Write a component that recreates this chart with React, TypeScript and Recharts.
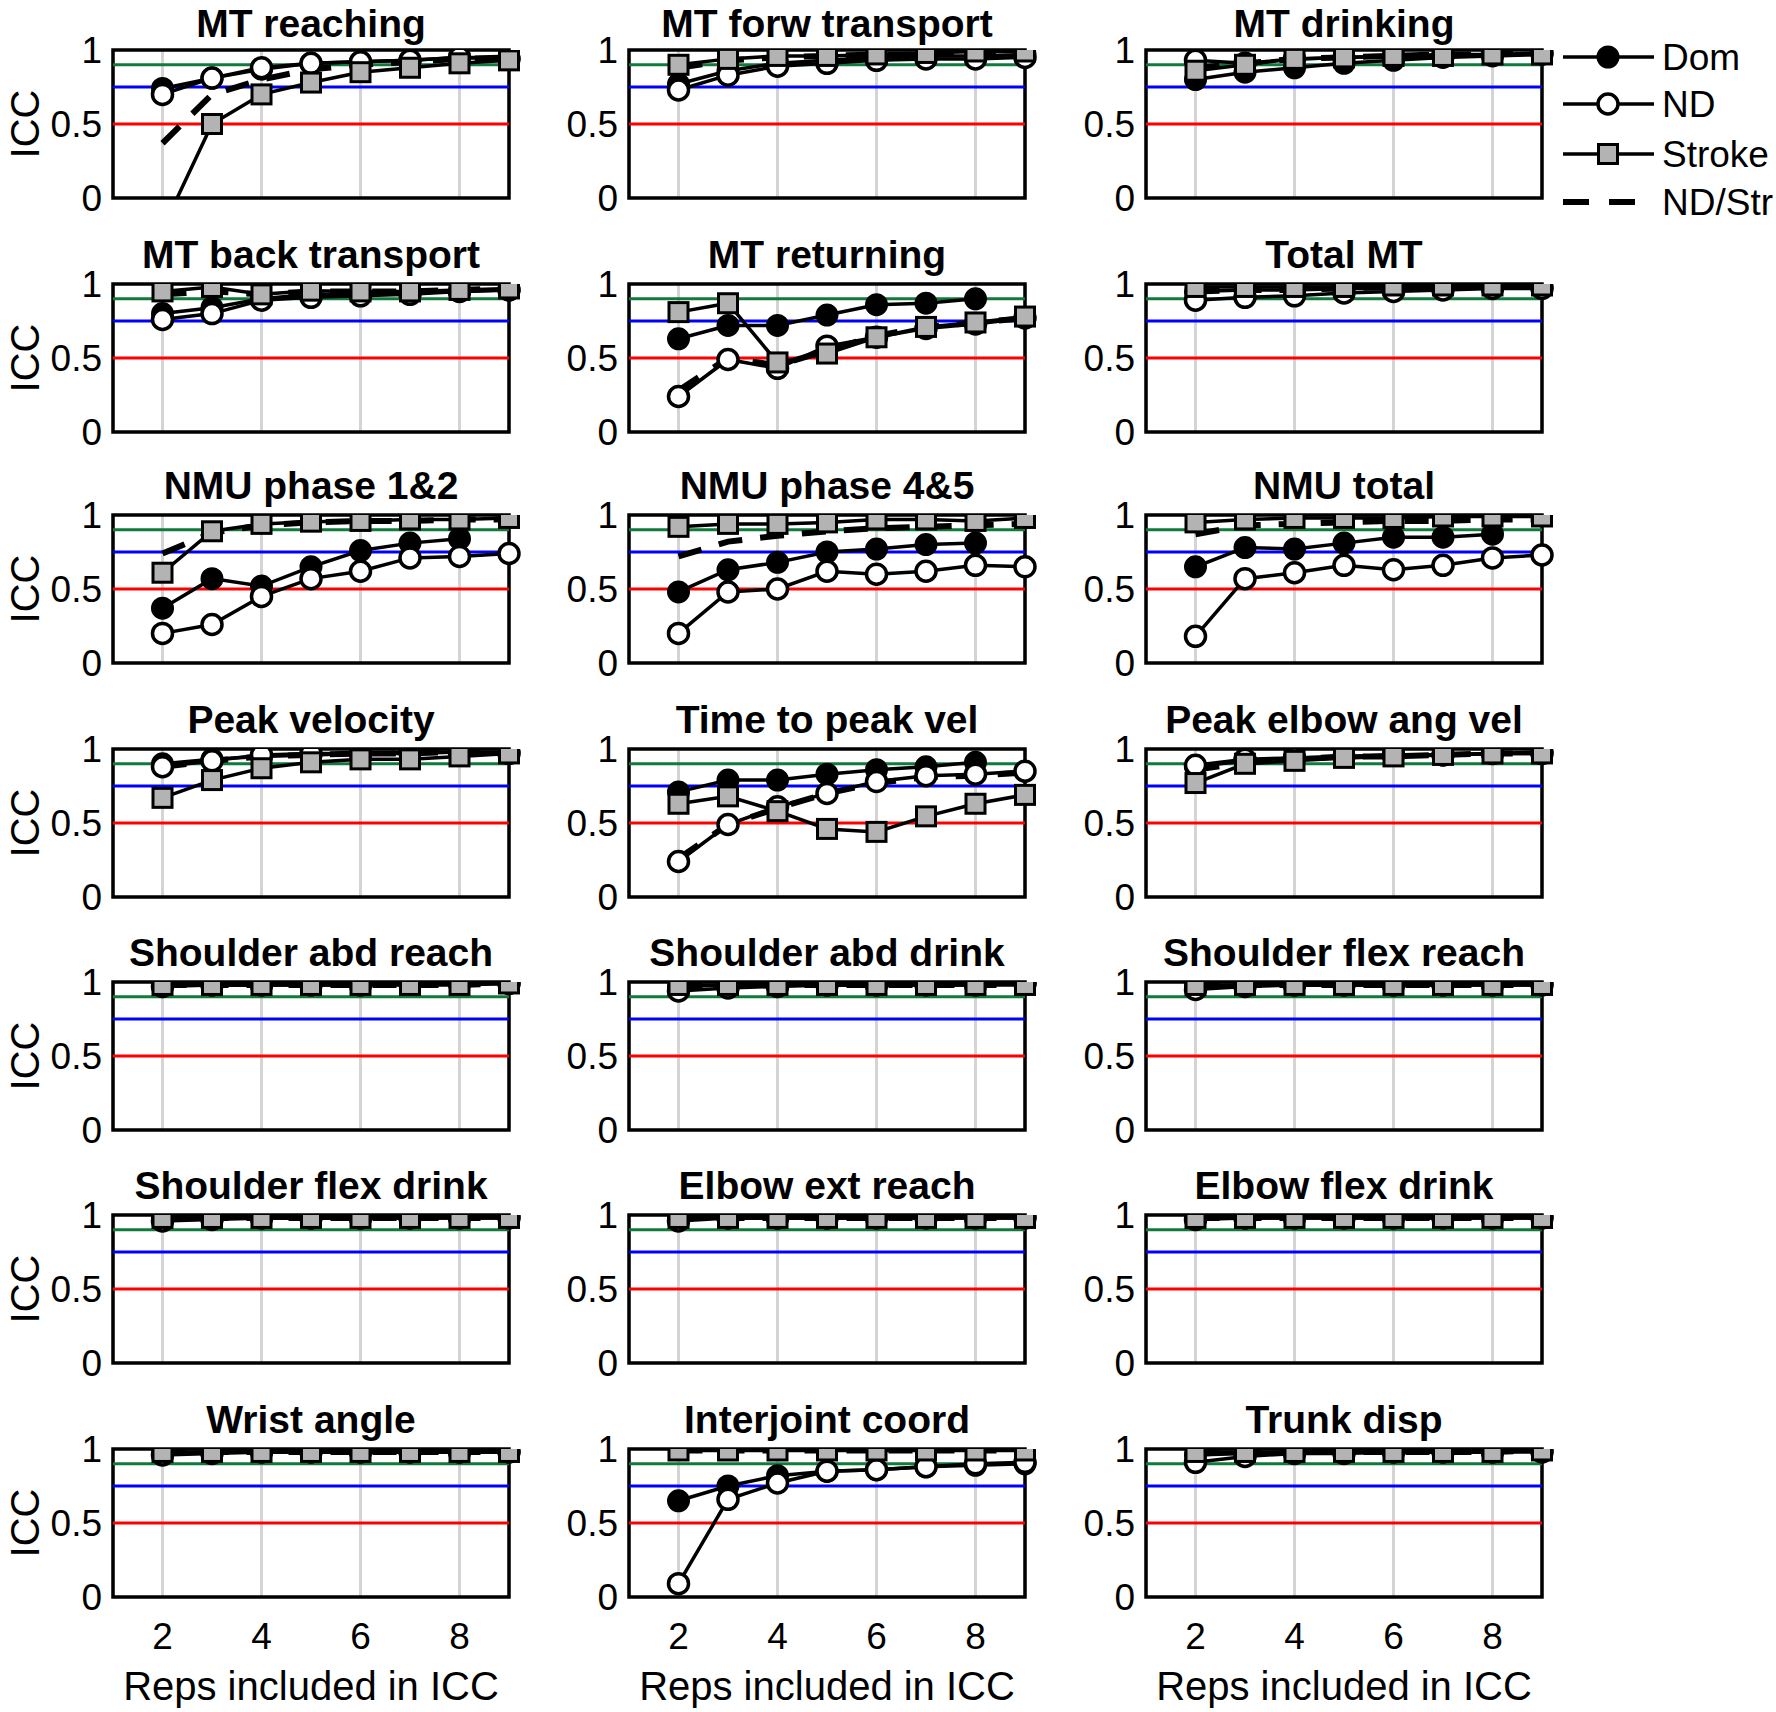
import React from 'react';
import { LineChart, Line, XAxis, YAxis, CartesianGrid, ReferenceLine, ReferenceArea } from 'recharts';

// ---------- data ----------
const REPS = [2, 3, 4, 5, 6, 7, 8, 9];
const X_TICKS = [2, 4, 6, 8];
const Y_TICKS = [0, 0.5, 1];

const TITLES = [
  'MT reaching', 'MT forw transport', 'MT drinking',
  'MT back transport', 'MT returning', 'Total MT',
  'NMU phase 1&2', 'NMU phase 4&5', 'NMU total',
  'Peak velocity', 'Time to peak vel', 'Peak elbow ang vel',
  'Shoulder abd reach', 'Shoulder abd drink', 'Shoulder flex reach',
  'Shoulder flex drink', 'Elbow ext reach', 'Elbow flex drink',
  'Wrist angle', 'Interjoint coord', 'Trunk disp',
];

const DOM: (number | null)[][] = [
  [0.74, 0.81, 0.87, 0.91, 0.92, 0.93, 0.95, 0.95],
  [0.77, 0.86, 0.91, 0.93, 0.95, 0.96, 0.96, 0.97],
  [0.80, 0.85, 0.88, 0.91, 0.93, 0.95, 0.96, 0.97],
  [0.80, 0.84, 0.90, 0.93, 0.93, 0.94, 0.95, 0.96],
  [0.63, 0.72, 0.72, 0.79, 0.86, 0.87, 0.90, null],
  [0.95, 0.96, 0.96, 0.97, 0.97, 0.97, 0.98, 0.98],
  [0.37, 0.57, 0.52, 0.65, 0.76, 0.81, 0.84, null],
  [0.48, 0.63, 0.68, 0.75, 0.77, 0.80, 0.81, null],
  [0.65, 0.78, 0.77, 0.81, 0.85, 0.85, 0.87, null],
  [0.90, 0.93, 0.95, 0.96, 0.97, 0.97, 0.98, 0.98],
  [0.71, 0.79, 0.79, 0.83, 0.86, 0.88, 0.91, null],
  [0.88, 0.92, 0.94, 0.95, 0.96, 0.96, 0.97, 0.98],
  [0.98, 0.98, 0.98, 0.99, 0.99, 0.99, 0.99, 0.99],
  [0.97, 0.98, 0.98, 0.98, 0.98, 0.99, 0.99, 0.99],
  [0.97, 0.98, 0.98, 0.98, 0.98, 0.98, 0.99, 0.99],
  [0.98, 0.98, 0.98, 0.98, 0.98, 0.98, 0.99, 0.99],
  [0.98, 0.98, 0.98, 0.98, 0.99, 0.99, 0.99, 0.99],
  [0.98, 0.98, 0.99, 0.99, 0.99, 0.99, 0.99, 0.99],
  [0.97, 0.98, 0.98, 0.98, 0.98, 0.98, 0.98, 0.98],
  [0.65, 0.75, 0.82, 0.85, 0.86, 0.88, 0.89, 0.90],
  [0.96, 0.97, 0.98, 0.98, 0.98, 0.98, 0.98, 0.99],
];

const ND: (number | null)[][] = [
  [0.70, 0.81, 0.88, 0.91, 0.92, 0.93, 0.95, 0.94],
  [0.73, 0.83, 0.89, 0.91, 0.93, 0.94, 0.94, 0.95],
  [0.93, 0.91, 0.94, 0.95, 0.96, 0.97, 0.97, 0.98],
  [0.76, 0.80, 0.89, 0.91, 0.92, 0.93, 0.95, 0.96],
  [0.24, 0.49, 0.43, 0.58, 0.64, 0.70, 0.73, 0.77],
  [0.89, 0.91, 0.92, 0.94, 0.95, 0.96, 0.97, 0.97],
  [0.20, 0.26, 0.45, 0.57, 0.62, 0.71, 0.72, 0.74],
  [0.20, 0.48, 0.50, 0.62, 0.60, 0.62, 0.66, 0.65],
  [0.18, 0.57, 0.61, 0.66, 0.63, 0.66, 0.71, 0.73],
  [0.88, 0.92, 0.96, 0.97, 0.97, 0.98, 0.98, 0.97],
  [0.24, 0.49, 0.61, 0.70, 0.78, 0.82, 0.83, 0.85],
  [0.89, 0.93, 0.94, 0.95, 0.96, 0.96, 0.97, 0.97],
  [0.97, 0.98, 0.98, 0.98, 0.98, 0.99, 0.99, 0.99],
  [0.94, 0.96, 0.97, 0.98, 0.98, 0.98, 0.98, 0.99],
  [0.95, 0.97, 0.98, 0.98, 0.98, 0.98, 0.98, 0.98],
  [0.96, 0.97, 0.98, 0.98, 0.98, 0.98, 0.98, 0.98],
  [0.96, 0.98, 0.98, 0.98, 0.98, 0.98, 0.98, 0.98],
  [0.97, 0.98, 0.98, 0.98, 0.98, 0.98, 0.98, 0.98],
  [0.96, 0.97, 0.98, 0.98, 0.98, 0.98, 0.98, 0.98],
  [0.09, 0.66, 0.77, 0.85, 0.86, 0.88, 0.90, 0.91],
  [0.91, 0.95, 0.97, 0.97, 0.98, 0.98, 0.98, 0.98],
];

const STROKE: (number | null)[][] = [
  [-0.21, 0.50, 0.70, 0.78, 0.85, 0.88, 0.91, 0.93],
  [0.90, 0.94, 0.96, 0.96, 0.97, 0.98, 0.99, 0.99],
  [0.86, 0.90, 0.94, 0.95, 0.96, 0.96, 0.97, 0.97],
  [0.95, 0.98, 0.93, 0.955, 0.95, 0.95, 0.96, 0.97],
  [0.81, 0.87, 0.47, 0.53, 0.64, 0.71, 0.74, 0.78],
  [0.98, 0.98, 0.98, 0.98, 0.99, 0.99, 0.99, 0.99],
  [0.61, 0.89, 0.94, 0.955, 0.96, 0.97, 0.97, 0.98],
  [0.92, 0.94, 0.94, 0.95, 0.97, 0.97, 0.96, 0.98],
  [0.95, 0.97, 0.98, 0.98, 0.98, 0.99, 0.99, 0.99],
  [0.67, 0.79, 0.87, 0.91, 0.93, 0.93, 0.95, 0.97],
  [0.63, 0.68, 0.58, 0.46, 0.44, 0.545, 0.63, 0.69],
  [0.77, 0.90, 0.92, 0.94, 0.95, 0.96, 0.97, 0.97],
  [0.98, 0.98, 0.98, 0.98, 0.98, 0.98, 0.98, 0.99],
  [0.98, 0.98, 0.98, 0.98, 0.98, 0.98, 0.98, 0.98],
  [0.98, 0.98, 0.98, 0.98, 0.98, 0.98, 0.98, 0.98],
  [0.98, 0.98, 0.98, 0.98, 0.98, 0.98, 0.98, 0.98],
  [0.98, 0.98, 0.98, 0.98, 0.98, 0.98, 0.98, 0.98],
  [0.98, 0.98, 0.98, 0.98, 0.98, 0.98, 0.98, 0.98],
  [0.98, 0.98, 0.98, 0.98, 0.98, 0.98, 0.98, 0.98],
  [0.99, 0.99, 0.99, 0.99, 0.99, 0.99, 0.99, 0.99],
  [0.98, 0.98, 0.98, 0.98, 0.98, 0.98, 0.98, 0.99],
];

const ND_STR: (number | null)[][] = [
  [0.37, 0.70, 0.80, 0.87, 0.90, 0.92, 0.94, 0.95],
  [0.88, 0.93, 0.95, 0.96, 0.97, 0.97, 0.98, 0.98],
  [0.88, 0.91, 0.94, 0.95, 0.96, 0.97, 0.97, 0.98],
  [0.93, 0.95, 0.93, 0.95, 0.95, 0.95, 0.96, 0.97],
  [0.28, 0.50, 0.45, 0.55, 0.65, 0.71, 0.74, 0.77],
  [0.95, 0.96, 0.96, 0.97, 0.98, 0.98, 0.98, 0.98],
  [0.74, 0.88, 0.93, 0.95, 0.96, 0.96, 0.97, 0.97],
  [0.72, 0.82, 0.86, 0.89, 0.91, 0.92, 0.93, 0.94],
  [0.87, 0.93, 0.94, 0.95, 0.96, 0.96, 0.97, 0.97],
  [0.88, 0.92, 0.95, 0.96, 0.97, 0.97, 0.98, 0.97],
  [0.26, 0.49, 0.60, 0.70, 0.77, 0.81, 0.82, 0.84],
  [0.86, 0.91, 0.93, 0.95, 0.95, 0.96, 0.97, 0.97],
  [0.98, 0.98, 0.98, 0.98, 0.98, 0.98, 0.98, 0.99],
  [0.97, 0.98, 0.98, 0.98, 0.98, 0.98, 0.98, 0.98],
  [0.97, 0.98, 0.98, 0.98, 0.98, 0.98, 0.98, 0.98],
  [0.98, 0.98, 0.98, 0.98, 0.98, 0.98, 0.98, 0.98],
  [0.98, 0.98, 0.98, 0.98, 0.98, 0.98, 0.98, 0.98],
  [0.98, 0.98, 0.98, 0.98, 0.98, 0.98, 0.98, 0.98],
  [0.98, 0.98, 0.98, 0.98, 0.98, 0.98, 0.98, 0.98],
  [0.99, 0.99, 0.99, 0.99, 0.99, 0.99, 0.99, 0.99],
  [0.97, 0.98, 0.98, 0.98, 0.98, 0.98, 0.98, 0.99],
];

const THRESHOLDS = [0.5, 0.75, 0.9];
const THRESHOLD_COLORS = ['#ff0000', '#0000ff', '#107a3c'];
const LEGEND_LABELS = ['Dom', 'ND', 'Stroke', 'ND/Str'];

// ---------- layout ----------
const FONT = '"Liberation Sans", Arial, Helvetica, sans-serif';
const COL_LEFT = [113, 629, 1146];
const ROW_TOP = [50, 284, 515, 749, 982, 1215, 1449];
const AX_W = 396;
const AX_H = 148;
const Y_W = 110;
const M_TOP = 20;
const M_RIGHT = 30;
const M_BOTTOM = 20;
const TICK_FS = 37;
const LABEL_FS = 40;
const TITLE_FS = 39;
const GRAY = '#b3b3b3';
const LW = 3.5;

const SquareDot = (props: any) => {
  const { cx, cy, index } = props;
  if (typeof cx !== 'number' || typeof cy !== 'number' || isNaN(cy)) return <g key={`s${index}`} />;
  const s = 19;
  return (
    <rect key={`s${index}`} x={cx - s / 2} y={cy - s / 2} width={s} height={s}
      fill={GRAY} stroke="#000" strokeWidth={3} />
  );
};

const EmptyTick = () => <g />;

function Panel({ idx }: { idx: number }) {
  const row = Math.floor(idx / 3);
  const col = idx % 3;
  const bottom = row === 6;
  const data = REPS.map((x, i) => ({
    x,
    dom: DOM[idx][i],
    nd: ND[idx][i],
    str: STROKE[idx][i],
    ndstr: ND_STR[idx][i],
  }));
  const xH = bottom ? 70 : 0;
  const width = Y_W + AX_W + M_RIGHT;
  const height = M_TOP + AX_H + xH + M_BOTTOM;
  return (
    <div style={{ position: 'absolute', left: COL_LEFT[col] - Y_W, top: ROW_TOP[row] - M_TOP }}>
      <LineChart width={width} height={height} data={data}
        margin={{ top: M_TOP, right: M_RIGHT, bottom: M_BOTTOM, left: 0 }}>
        <CartesianGrid horizontal={false} stroke="#d4d4d4" strokeWidth={3} />
        <XAxis type="number" dataKey="x" domain={[1, 9]} ticks={X_TICKS} height={xH} interval={0}
          tick={bottom ? { fontSize: TICK_FS, fill: '#000', fontFamily: FONT } : <EmptyTick />}
          tickLine={false} axisLine={false} tickSize={0} tickMargin={26} />
        <YAxis type="number" domain={[0, 1]} ticks={Y_TICKS} allowDataOverflow width={Y_W} interval={0}
          tick={{ fontSize: TICK_FS, fill: '#000', fontFamily: FONT }}
          tickFormatter={(v: number) => String(v)}
          tickLine={false} axisLine={false} tickSize={0} tickMargin={11} />
        {THRESHOLDS.map((t, i) => (
          <ReferenceLine key={t} y={t} stroke={THRESHOLD_COLORS[i]} strokeWidth={3} />
        ))}
        <ReferenceArea x1={1} x2={9} y1={0} y2={1} fill="none" stroke="#000" strokeWidth={3.5} fillOpacity={0} />
        <Line type="linear" dataKey="dom" stroke="#000" strokeWidth={LW} isAnimationActive={false}
          dot={{ r: 10.5, fill: '#000', stroke: '#000', strokeWidth: 2 }} activeDot={false} />
        <Line type="linear" dataKey="nd" stroke="#000" strokeWidth={LW} isAnimationActive={false}
          dot={{ r: 10, fill: '#fff', stroke: '#000', strokeWidth: 3.5 }} activeDot={false} />
        <Line type="linear" dataKey="str" stroke="#000" strokeWidth={LW} isAnimationActive={false}
          dot={SquareDot} activeDot={false} />
        <Line type="linear" dataKey="ndstr" stroke="#000" strokeWidth={6} strokeDasharray="24 18"
          isAnimationActive={false} dot={false} activeDot={false} />
      </LineChart>
    </div>
  );
}

function Overlay() {
  const legendY = [57, 104, 154, 202];
  return (
    <svg width={1776} height={1712} style={{ position: 'absolute', left: 0, top: 0, pointerEvents: 'none' }}
      fontFamily={FONT}>
      {TITLES.map((t, i) => {
        const row = Math.floor(i / 3);
        const col = i % 3;
        const baseline = row === 0 ? 37 : ROW_TOP[row] - 16;
        return (
          <text key={t} x={COL_LEFT[col] + AX_W / 2} y={baseline} textAnchor="middle"
            fontWeight="bold" fontSize={TITLE_FS} fill="#000">{t}</text>
        );
      })}
      {ROW_TOP.map((top, r) => (
        <text key={`icc${r}`} transform={`translate(25, ${top + AX_H / 2}) rotate(-90)`}
          textAnchor="middle" dominantBaseline="central" fontSize={LABEL_FS} fill="#000">ICC</text>
      ))}
      {COL_LEFT.map((left, c) => (
        <text key={`xl${c}`} x={left + AX_W / 2} y={1700} textAnchor="middle" fontSize={LABEL_FS}
          fill="#000">Reps included in ICC</text>
      ))}
      {LEGEND_LABELS.map((lab, i) => {
        const y = legendY[i];
        return (
          <g key={lab}>
            {i < 3 ? (
              <line x1={1563} x2={1654} y1={y} y2={y} stroke="#000" strokeWidth={LW} />
            ) : (
              <line x1={1563} x2={1654} y1={y} y2={y} stroke="#000" strokeWidth={6} strokeDasharray="26 20" />
            )}
            {i === 0 && <circle cx={1608} cy={y} r={10.5} fill="#000" stroke="#000" strokeWidth={2} />}
            {i === 1 && <circle cx={1608} cy={y} r={10} fill="#fff" stroke="#000" strokeWidth={3.5} />}
            {i === 2 && <rect x={1608 - 9.5} y={y - 9.5} width={19} height={19} fill={GRAY} stroke="#000" strokeWidth={3} />}
            <text x={1662} y={y} dominantBaseline="central" fontSize={TICK_FS} fill="#000">{lab}</text>
          </g>
        );
      })}
    </svg>
  );
}

export default function App() {
  return (
    <div style={{ position: 'absolute', left: 0, top: 0, width: 1776, height: 1712, overflow: 'hidden', background: '#fff', fontFamily: FONT }}>
      {TITLES.map((_, i) => <Panel key={i} idx={i} />)}
      <Overlay />
    </div>
  );
}
